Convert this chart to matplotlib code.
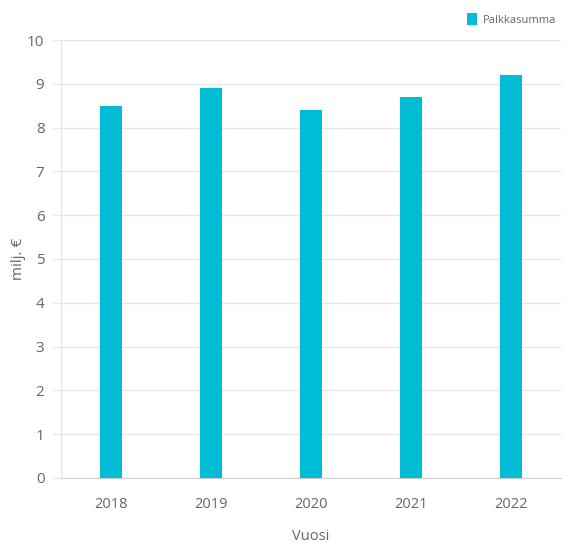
import matplotlib.pyplot as plt
import numpy as np

plt.rcParams["font.family"] = ["Open Sans", "DejaVu Sans"]

years = ["2018", "2019", "2020", "2021", "2022"]
palkkasumma = [8.5, 8.9, 8.4, 8.7, 9.2]
yticks = list(range(0, 11))

bar_color = "#00BCD4"
text_color = "#666666"
grid_color = "#e6e6e6"

fig = plt.figure(figsize=(5.66, 5.48), dpi=100)
ax = fig.add_axes([0.108, 0.128, 0.883, 0.799])

x = np.arange(len(years))
ax.bar(x, palkkasumma, width=0.22, color=bar_color, label="Palkkasumma", zorder=3)

ax.set_xlim(-0.5, len(years) - 0.5)
ax.set_ylim(0, 10)
ax.set_xticks(x)
ax.set_xticklabels(years)
ax.set_yticks(yticks)

ax.grid(axis="y", color=grid_color, linewidth=1, zorder=0)
for s in ["top", "right"]:
    ax.spines[s].set_visible(False)
ax.spines["left"].set_color(grid_color)
ax.spines["bottom"].set_color("#d0d0d0")
ax.tick_params(axis="x", length=0, pad=14, labelsize=10.5, labelcolor=text_color)
ax.tick_params(axis="y", length=6, color=grid_color, pad=6, labelsize=11, labelcolor=text_color)

ax.set_xlabel("Vuosi", color=text_color, fontsize=10.5, labelpad=12)
ax.set_ylabel("milj. €", color=text_color, fontsize=11)
ax.yaxis.set_label_coords(-0.07, 0.5)

leg = fig.legend(loc="upper right", bbox_to_anchor=(1.0, 0.995), frameon=False,
                 fontsize=8, handlelength=0.9, handleheight=1.3, handletextpad=0.5,
                 labelcolor=text_color)

fig.savefig("out.png", dpi=100)
